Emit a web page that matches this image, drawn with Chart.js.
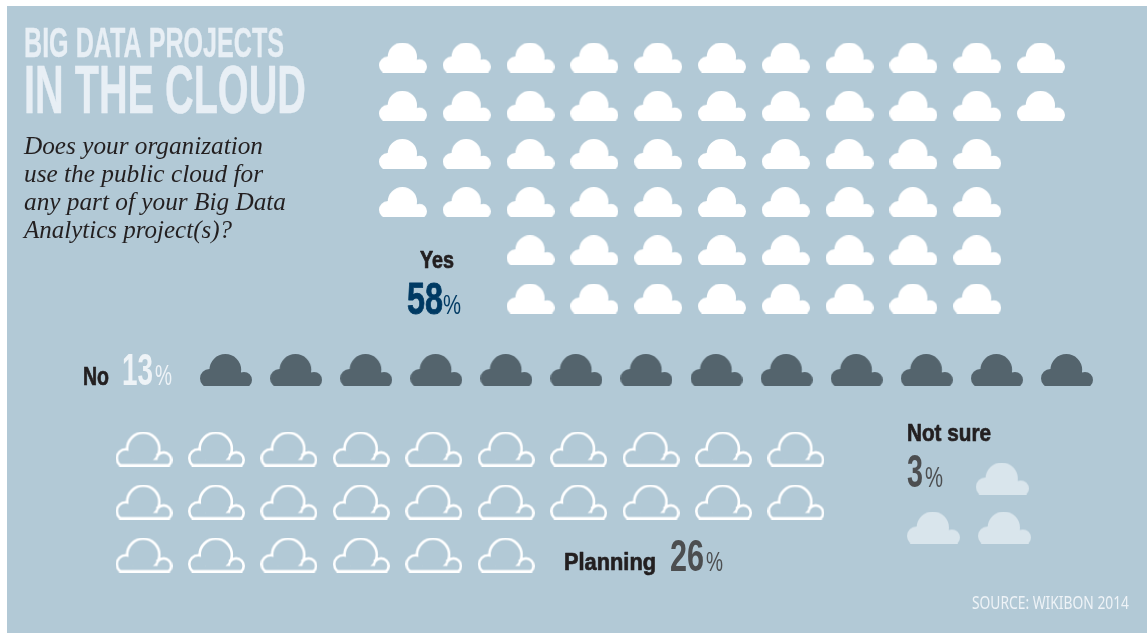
<!DOCTYPE html>
<html>
<head>
<meta charset="utf-8">
<title>Big Data projects in the cloud</title>
<script src="https://cdn.jsdelivr.net/npm/chart.js@4/dist/chart.umd.min.js"></script>
<style>
  html, body { margin: 0; padding: 0; background: #fff; }
  canvas { display: block; }
</style>
</head>
<body>
<canvas id="grafico" width="1147" height="633"></canvas>
<script>
// Survey answers, one cloud per percentage point
const categorias = ['Yes', 'No', 'Planning', 'Not sure'];
const porcentajes = [58, 13, 26, 3];

// How many clouds sit on each row, and the column each row starts on
const filasYes = [11, 11, 10, 10, 8, 8];
const inicioYes = [0, 0, 0, 0, 2, 2];
const filasNo = [13];
const inicioNo = [0];
const filasPlanning = [10, 10, 6];
const inicioPlanning = [0, 0, 0];
// The three "not sure" clouds are placed loosely
const columnasNotSure = [0.97, 0, 1];
const renglonesNotSure = [0, 1, 1];

const ANCHO = 1147;
const ALTO = 633;
const FONDO = '#b2c9d6';
const ANGOSTA = '"Liberation Sans Narrow", "Liberation Sans", sans-serif';

function celdas(total, filas, inicios) {
  const puntos = [];
  filas.forEach(function(n, fila) {
    for (let i = 0; i < n && puntos.length < total; i++) {
      puntos.push({ x: inicios[fila] + i, y: fila });
    }
  });
  return puntos;
}

// Hidden scales fill the whole canvas, so min/max decide where column 0 lands
function escala(origen, paso, largo, invertida) {
  return {
    type: 'linear',
    display: false,
    reverse: !!invertida,
    min: -origen / paso,
    max: (largo - origen) / paso
  };
}

// Three lobes; the small ones run past the bottom edge and get cut flat by it
function trazarNube(c, w, h, inset) {
  const r1 = w * 0.305, r2 = w * 0.18, r3 = w * 0.154;
  const x1 = w * 0.487, y1 = r1;
  const x2 = r2, y2 = h * 0.47 + r2;
  const x3 = w - r3, y3 = h * 0.56 + r3;
  const partes = [[x1, y1, r1], [x2, y2, r2], [x3, y3, r3]];
  partes.forEach(function(p) {
    c.moveTo(p[0] + p[2] - inset, p[1]);
    c.arc(p[0], p[1], p[2] - inset, 0, Math.PI * 2);
  });
  c.moveTo(x2, y3);
  c.rect(x2, y3, x3 - x2, h - y3);
}

function nubeLlena(w, h, color) {
  const lienzo = document.createElement('canvas');
  lienzo.width = w;
  lienzo.height = h;
  const c = lienzo.getContext('2d');
  c.fillStyle = color;
  c.beginPath();
  trazarNube(c, w, h, 0);
  c.fill('nonzero');
  return lienzo;
}

function nubeHueca(w, h, color, grosor) {
  const lienzo = document.createElement('canvas');
  lienzo.width = w;
  lienzo.height = h;
  const c = lienzo.getContext('2d');
  // Stroke the lobes, then punch the union out so only the outer edge stays
  c.strokeStyle = color;
  c.lineWidth = grosor * 2;
  c.beginPath();
  trazarNube(c, w, h, grosor);
  c.stroke();
  c.globalCompositeOperation = 'destination-out';
  c.fillStyle = '#000';
  c.beginPath();
  trazarNube(c, w, h, grosor);
  c.fill('nonzero');
  c.globalCompositeOperation = 'source-over';
  // Flat line along the bottom
  c.lineWidth = grosor;
  c.beginPath();
  c.moveTo(w * 0.07, h - grosor / 2);
  c.lineTo(w * 0.95, h - grosor / 2);
  c.stroke();
  // Little tick where the big lobe meets the right one
  c.lineWidth = grosor * 0.8;
  c.lineCap = 'round';
  c.beginPath();
  c.moveTo(w * 0.78, h * 0.62);
  c.lineTo(w * 0.73, h * 0.66);
  c.stroke();
  return lienzo;
}

function grupo(etiqueta, puntos, imagen, ejeX, ejeY) {
  return {
    label: etiqueta,
    data: puntos,
    xAxisID: ejeX,
    yAxisID: ejeY,
    clip: false,
    pointStyle: imagen,
    pointRadius: 30,
    pointHoverRadius: 30
  };
}

// Titles and labels drawn on the canvas, squeezed to a set width
function rotulos() {
  const pct = porcentajes.map(function(v) { return String(v); });
  const serif = 'italic 24.5px "Liberation Serif"';
  return [
    { t: 'BIG DATA PROJECTS', f: '700 43px ' + ANGOSTA, c: '#e8eff5', x: 24, y: 57, w: 260, g: 0.3 },
    { t: 'IN THE CLOUD', f: '700 68px ' + ANGOSTA, c: '#e8eff5', x: 24, y: 113, w: 282, g: 0.5 },
    { t: 'Does your organization', f: serif, c: '#231f20', x: 24, y: 154, w: 239 },
    { t: 'use the public cloud for', f: serif, c: '#231f20', x: 24, y: 182, w: 239 },
    { t: 'any part of your Big Data', f: serif, c: '#231f20', x: 24, y: 210, w: 262 },
    { t: 'Analytics project(s)?', f: serif, c: '#231f20', x: 24, y: 238, w: 208 },
    { t: categorias[0], f: '700 23px ' + ANGOSTA, c: '#231f20', x: 420, y: 268, w: 34, g: 0.7 },
    { t: pct[0], f: '700 44px ' + ANGOSTA, c: '#003a63', x: 407, y: 314, w: 36, g: 0.8 },
    { t: '%', f: '400 27px ' + ANGOSTA, c: '#003a63', x: 443, y: 314, w: 18 },
    { t: categorias[1], f: '700 25px ' + ANGOSTA, c: '#231f20', x: 83, y: 385, w: 26, g: 0.7 },
    { t: pct[1], f: '700 45px ' + ANGOSTA, c: '#eef3f7', x: 122, y: 385, w: 31 },
    { t: '%', f: '400 29px ' + ANGOSTA, c: '#eef3f7', x: 155, y: 385, w: 17 },
    { t: categorias[2], f: '700 24px ' + ANGOSTA, c: '#231f20', x: 564, y: 570, w: 92, g: 0.7 },
    { t: pct[2], f: '700 45px ' + ANGOSTA, c: '#4c4e50', x: 670, y: 571, w: 34 },
    { t: '%', f: '400 27px ' + ANGOSTA, c: '#4c4e50', x: 706, y: 571, w: 17 },
    { t: categorias[3], f: '700 24px ' + ANGOSTA, c: '#231f20', x: 907, y: 441, w: 84, g: 0.7 },
    { t: pct[3], f: '700 46px ' + ANGOSTA, c: '#4c4e50', x: 907, y: 487, w: 16 },
    { t: '%', f: '400 30px ' + ANGOSTA, c: '#4c4e50', x: 925, y: 487, w: 18 },
    { t: 'SOURCE: WIKIBON 2014', f: '400 18px "Noto Sans"', c: '#eef3f7', x: 972, y: 609, w: 157 }
  ];
}

const pluginFondo = {
  id: 'fondo',
  beforeDraw: function(chart) {
    const c = chart.ctx;
    c.save();
    c.fillStyle = FONDO;
    c.fillRect(7, 6, ANCHO - 7, ALTO - 6);
    c.restore();
  },
  afterDraw: function(chart) {
    const c = chart.ctx;
    rotulos().forEach(function(r) {
      c.save();
      c.font = r.f;
      c.fillStyle = r.c;
      c.textBaseline = 'alphabetic';
      c.textAlign = 'left';
      c.translate(r.x, r.y);
      c.scale(r.w / c.measureText(r.t).width, 1);
      c.fillText(r.t, 0, 0);
      if (r.g) {
        // Heavier weight for the short labels
        c.strokeStyle = r.c;
        c.lineWidth = r.g;
        c.lineJoin = 'round';
        c.strokeText(r.t, 0, 0);
      }
      c.restore();
    });
  }
};

document.addEventListener('DOMContentLoaded', function() {
  const ctx = document.getElementById('grafico').getContext('2d');

  new Chart(ctx, {
    type: 'scatter',
    data: {
      datasets: [
        grupo(categorias[0], celdas(porcentajes[0], filasYes, inicioYes),
          nubeLlena(48, 30, '#ffffff'), 'xYes', 'yYes'),
        grupo(categorias[1], celdas(porcentajes[1], filasNo, inicioNo),
          nubeLlena(52, 32, '#54646d'), 'xNo', 'yNo'),
        grupo(categorias[2], celdas(porcentajes[2], filasPlanning, inicioPlanning),
          nubeHueca(57, 35, '#ffffff', 2.6), 'xPlanning', 'yPlanning'),
        grupo(categorias[3], columnasNotSure.map(function(c, i) {
          return { x: c, y: renglonesNotSure[i] };
        }), nubeLlena(53, 32, '#d9e5ec'), 'xNotSure', 'yNotSure')
      ]
    },
    options: {
      responsive: false,
      animation: false,
      events: [],
      layout: { padding: 0, autoPadding: false },
      plugins: { legend: { display: false }, tooltip: { enabled: false } },
      scales: {
        xYes: escala(403, 63.8, ANCHO),
        yYes: escala(57.5, 48.2, ALTO, true),
        xNo: escala(226, 70.08, ANCHO),
        yNo: escala(370, 50, ALTO, true),
        xPlanning: escala(144, 72.44, ANCHO),
        yPlanning: escala(449, 53, ALTO, true),
        xNotSure: escala(933.5, 71, ANCHO),
        yNotSure: escala(478.5, 49, ALTO, true)
      }
    },
    plugins: [pluginFondo]
  });
});
</script>
</body>
</html>
